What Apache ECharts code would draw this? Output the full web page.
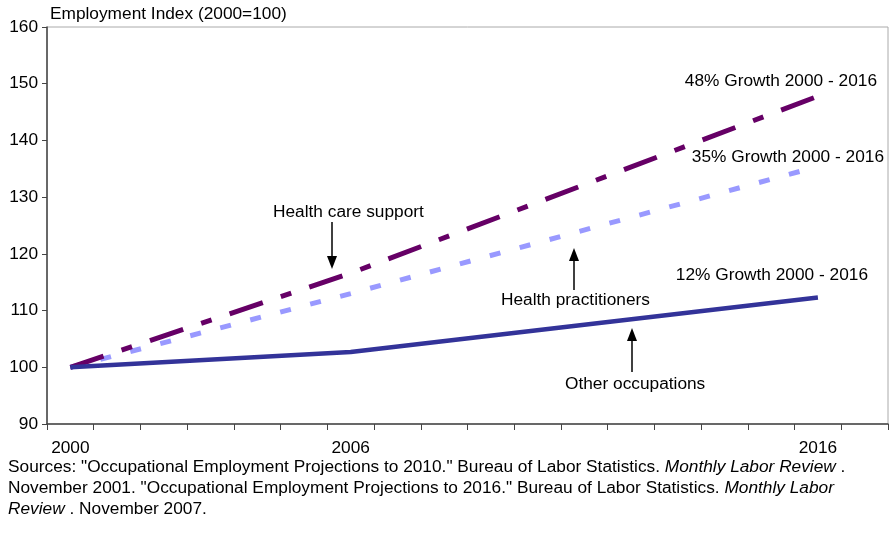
<!DOCTYPE html>
<html>
<head>
<meta charset="utf-8">
<script src="https://cdn.jsdelivr.net/npm/echarts@6/dist/echarts.min.js"></script>
<style>
html,body{margin:0;padding:0;background:#fff;}
#chart{width:889px;height:533px;}
</style>
</head>
<body>
<div id="chart"></div>
<script>
// ---- data ----
var categories = ['2000','2001','2002','2003','2004','2005','2006','2007','2008','2009','2010','2011','2012','2013','2014','2015','2016','2017'];
var labeledYears = ['2000','2006','2016'];
var pointYears = ['2000','2006','2016'];
var healthCareSupport = [100, 116.6, 147.8];
var healthPractitioners = [100, 113.0, 135.4];
var otherOccupations = [100, 102.7, 112.3];
var yTicks = [90, 100, 110, 120, 130, 140, 150, 160];

function pairs(vals){ return pointYears.map(function(y,i){ return [y, vals[i]]; }); }

var FONT = 'Liberation Sans, Arial, sans-serif';
var FS = 17.3;
var chart = echarts.init(document.getElementById('chart'), null, {renderer:'canvas'});

function arrow(x, yTail, yTip){
  var dir = yTip > yTail ? 1 : -1;
  return [
    {type:'line', shape:{x1:x, y1:yTail, x2:x, y2:yTip - dir*10}, style:{stroke:'#000', lineWidth:1.5}, z:10},
    {type:'polygon', shape:{points:[[x, yTip],[x-5, yTip - dir*13],[x+5, yTip - dir*13]]}, style:{fill:'#000'}, z:10}
  ];
}
function txt(x, y, s, align){
  return {type:'text', x:x, y:y, style:{text:s, font:FS + 'px ' + FONT, fill:'#000', textAlign:align||'left', textVerticalAlign:'middle'}, z:10};
}

var graphics = [
  txt(50, 14, 'Employment Index (2000=100)'),
  txt(273, 212, 'Health care support'),
  txt(501, 300, 'Health practitioners'),
  txt(565, 384, 'Other occupations'),
  txt(877, 81, '48% Growth 2000 - 2016', 'right'),
  txt(884, 157, '35% Growth 2000 - 2016', 'right'),
  txt(868, 275, '12% Growth 2000 - 2016', 'right'),
  {
    type:'text', x:8, y:457, z:10,
    style:{
      text:'{n|Sources: "Occupational Employment Projections to 2010." Bureau of Labor Statistics. }{i|Monthly Labor Review}{n| .}\n' +
           '{n|November 2001. "Occupational Employment Projections to 2016." Bureau of Labor Statistics. }{i|Monthly Labor}\n' +
           '{i|Review}{n| . November 2007.}',
      rich:{
        n:{font:FS + 'px ' + FONT, fill:'#000', lineHeight:21},
        i:{font:'italic ' + FS + 'px ' + FONT, fill:'#000', lineHeight:21}
      }
    }
  }
];
graphics = graphics.concat(arrow(332, 222, 269), arrow(574, 290, 248), arrow(632, 372, 328));

var option = {
  animation:false,
  backgroundColor:'#fff',
  grid:{left:47, right:1, top:27, bottom:109, show:true, borderColor:'#aaa', borderWidth:1},
  xAxis:{
    type:'category',
    data:categories,
    boundaryGap:true,
    axisLine:{lineStyle:{color:'#444', width:1.5}},
    axisTick:{show:true, interval:0, length:6, lineStyle:{color:'#444'}},
    axisLabel:{
      interval:0, margin:16, color:'#000', fontSize:FS, fontFamily:FONT,
      formatter:function(v){ return labeledYears.indexOf(v) >= 0 ? v : ''; }
    },
    splitLine:{show:false}
  },
  yAxis:{
    type:'value', min:yTicks[0], max:yTicks[yTicks.length-1], interval:10,
    axisLine:{show:true, lineStyle:{color:'#444', width:1.5}},
    axisTick:{show:true, length:5, lineStyle:{color:'#444'}},
    axisLabel:{margin:9, color:'#000', fontSize:FS, fontFamily:FONT},
    splitLine:{show:false}
  },
  series:[
    {
      name:'Other occupations', type:'line', data:pairs(otherOccupations),
      showSymbol:false, smooth:false, z:3,
      lineStyle:{color:'#333399', width:4.5}
    },
    {
      name:'Health practitioners', type:'line', data:pairs(healthPractitioners),
      showSymbol:false, z:2,
      lineStyle:{color:'#9999FF', width:5, type:[11,20], dashOffset:0}
    },
    {
      name:'Health care support', type:'line', data:pairs(healthCareSupport),
      showSymbol:false, z:2,
      lineStyle:{color:'#660066', width:5, type:[35,19,11,19], dashOffset:0}
    }
  ],
  graphic:graphics
};
chart.setOption(option);
</script>
</body>
</html>
